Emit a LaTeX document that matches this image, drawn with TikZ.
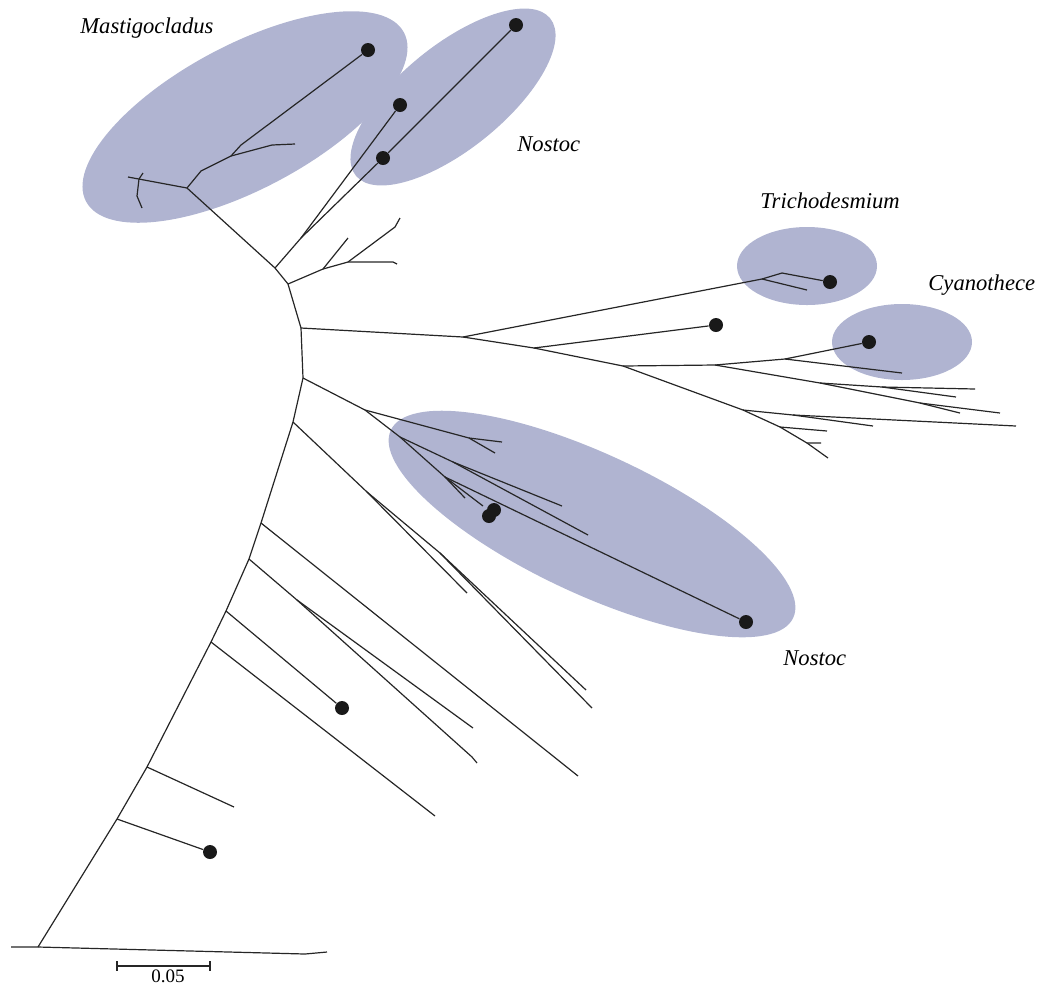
\documentclass[tikz,border=0pt]{standalone}
\usepackage{fontspec}
\setmainfont{Liberation Serif}
\usetikzlibrary{shapes.geometric}
\definecolor{cladeblue}{RGB}{176,180,209}
\newcommand{\tipdot}[2]{\node[tip] (#1) at #2 {};}

\begin{document}
\begin{tikzpicture}[
        x=0.5pt,
        y=-0.5pt,
        branch/.style={line width=0.6pt, draw=black!85, line join=round},
        tip/.style={circle, fill=black!90, inner sep=0pt, minimum size=7pt},
        clade/.style={ellipse, fill=cladeblue, inner sep=0pt, outer sep=0pt},
        taxon/.style={font=\fontsize{11.3}{13}\selectfont\itshape, anchor=base west, inner sep=0pt}
    ]
        \useasboundingbox (0,0) rectangle (1039,987);

        % shaded clades
        \node[clade, minimum width=180pt, minimum height=72pt, rotate=28] (mastiE) at (245,117) {};
        \node[clade, minimum width=125pt, minimum height=52pt, rotate=39] (nostocAE) at (453,97) {};
        \node[clade, minimum width=70pt, minimum height=39pt] (trichoE) at (807,266) {};
        \node[clade, minimum width=70pt, minimum height=38pt] (cyanoE) at (902,342) {};
        \node[clade, minimum width=222pt, minimum height=70pt, rotate=-25] (nostocBE) at (592,524) {};

        % backbone
        \coordinate (rl) at (11,947);
        \coordinate (r0) at (38,947);
        \coordinate (rr1) at (305,954);
        \coordinate (rr) at (327,952);
        \coordinate (b1) at (117,819);
        \coordinate (b2) at (147,767);
        \coordinate (b3) at (211,642);
        \coordinate (b4) at (226,611);
        \coordinate (b5) at (249,559);
        \coordinate (b6) at (261,523);
        \coordinate (b7) at (293,422);
        \coordinate (b8) at (303,378);
        \coordinate (b9) at (301,328);
        \coordinate (b10) at (288,284);
        \coordinate (b11) at (275,268);
        \coordinate (m0) at (187,188);

        % tips with dots
        \tipdot{d1}{(368,50)}
        \tipdot{d2}{(400,105)}
        \tipdot{d3}{(383,158)}
        \tipdot{d4}{(516,25)}
        \tipdot{d5}{(830,282)}
        \tipdot{d6}{(716,325)}
        \tipdot{d7}{(869,342)}
        \tipdot{d8a}{(489,516)}
        \tipdot{d8b}{(494,510)}
        \tipdot{d9}{(746,622)}
        \tipdot{d10}{(342,708)}
        \tipdot{d11}{(210,852)}

        % inner nodes and bare tips
        \coordinate (g1) at (297,600);
        \coordinate (n1) at (367,492);
        \coordinate (n2) at (440,553);
        \coordinate (k1) at (365,410);
        \coordinate (k2) at (469,438);
        \coordinate (k3) at (400,437);
        \coordinate (k4) at (453,462);
        \coordinate (k5) at (445,477);
        \coordinate (A) at (463,337);
        \coordinate (t1) at (762,279);
        \coordinate (t2) at (782,273);
        \coordinate (c1) at (534,348);
        \coordinate (B) at (623,366);
        \coordinate (c2) at (715,365);
        \coordinate (c3) at (785,359);
        \coordinate (c4) at (820,383);
        \coordinate (c5) at (920,403);
        \coordinate (c6) at (882,387);
        \coordinate (C) at (743,410);
        \coordinate (c7) at (793,415);
        \coordinate (c8) at (780,427);
        \coordinate (c9) at (807,443);
        \coordinate (s1) at (323,269);
        \coordinate (s2) at (348,262);
        \coordinate (s3) at (395,227);
        \coordinate (p1) at (301,238);
        \coordinate (m1) at (128,177);
        \coordinate (m2) at (139,179);
        \coordinate (m3) at (201,171);
        \coordinate (m4) at (231,156);
        \coordinate (m5) at (241,145);
        \coordinate (m6) at (272,145);

        \coordinate (e1) at (234,807);
        \coordinate (e2) at (435,816);
        \coordinate (e3) at (473,728);
        \coordinate (e4a) at (472,757);
        \coordinate (e4) at (477,763);
        \coordinate (e5) at (578,776);
        \coordinate (e6) at (467,593);
        \coordinate (e7) at (586,690);
        \coordinate (e8) at (592,708);
        \coordinate (e9) at (502,442);
        \coordinate (e10) at (495,453);
        \coordinate (e11) at (562,506);
        \coordinate (e12) at (588,535);
        \coordinate (e13) at (465,498);
        \coordinate (e14) at (483,506);
        \coordinate (e15) at (807,290);
        \coordinate (e16) at (902,373);
        \coordinate (e17) at (975,389);
        \coordinate (e18) at (956,397);
        \coordinate (e19) at (960,413);
        \coordinate (e20) at (1000,413);
        \coordinate (e21) at (1016,426);
        \coordinate (e22) at (873,426);
        \coordinate (e23) at (827,431);
        \coordinate (e24) at (821,443);
        \coordinate (e25) at (828,458);
        \coordinate (e26) at (348,238);
        \coordinate (e27a) at (393,262);
        \coordinate (e27) at (397,264);
        \coordinate (e28) at (400,218);
        \coordinate (e29a) at (137,196);
        \coordinate (e29) at (142,208);
        \coordinate (e29b) at (143,173);
        \coordinate (e30) at (295,144);

        % branches
        \draw[branch] (rl) -- (r0) -- (rr1) -- (rr);
        \draw[branch] (r0) -- (b1) -- (b2) -- (b3) -- (b4) -- (b5) -- (b6) -- (b7)
            -- (b8) -- (b9) -- (b10) -- (b11) -- (m0);

        \draw[branch] (b1) -- (d11);
        \draw[branch] (b2) -- (e1);
        \draw[branch] (b3) -- (e2);
        \draw[branch] (b4) -- (d10);
        \draw[branch] (b5) -- (g1) -- (e3);
        \draw[branch] (g1) -- (e4a) -- (e4);
        \draw[branch] (b6) -- (e5);
        \draw[branch] (b7) -- (n1) -- (e6);
        \draw[branch] (n1) -- (n2) -- (e7);
        \draw[branch] (n2) -- (e8);

        \draw[branch] (b8) -- (k1) -- (k2) -- (e9);
        \draw[branch] (k2) -- (e10);
        \draw[branch] (k1) -- (k3) -- (k4) -- (e11);
        \draw[branch] (k4) -- (e12);
        \draw[branch] (k3) -- (k5) -- (e13);
        \draw[branch] (k5) -- (e14);
        \draw[branch] (k5) -- (d9);

        \draw[branch] (b9) -- (A) -- (t1) -- (t2) -- (d5);
        \draw[branch] (t1) -- (e15);
        \draw[branch] (A) -- (c1) -- (d6);
        \draw[branch] (c1) -- (B) -- (c2) -- (c3) -- (d7);
        \draw[branch] (c3) -- (e16);
        \draw[branch] (c2) -- (c4) -- (c6) -- (e17);
        \draw[branch] (c6) -- (e18);
        \draw[branch] (c4) -- (c5) -- (e19);
        \draw[branch] (c5) -- (e20);
        \draw[branch] (B) -- (C) -- (c7) -- (e21);
        \draw[branch] (c7) -- (e22);
        \draw[branch] (C) -- (c8) -- (e23);
        \draw[branch] (c8) -- (c9) -- (e24);
        \draw[branch] (c9) -- (e25);

        \draw[branch] (b10) -- (s1) -- (e26);
        \draw[branch] (s1) -- (s2) -- (e27a) -- (e27);
        \draw[branch] (s2) -- (s3) -- (e28);

        \draw[branch] (b11) -- (p1) -- (d2);
        \draw[branch] (p1) -- (d3) -- (d4);

        \draw[branch] (m0) -- (m1);
        \draw[branch] (m2) -- (e29a) -- (e29);
        \draw[branch] (m2) -- (e29b);
        \draw[branch] (m0) -- (m3) -- (m4) -- (m5) -- (d1);
        \draw[branch] (m4) -- (m6) -- (e30);

        % labels
        \node[taxon] (lMasti) at (80,33) {Mastigocladus};
        \node[taxon] (lNostocA) at (517,151) {Nostoc};
        \node[taxon] (lTricho) at (760,208) {Trichodesmium};
        \node[taxon] (lCyano) at (928,290) {Cyanothece};
        \node[taxon] (lNostocB) at (783,665) {Nostoc};

        % scale bar
        \coordinate (sb1) at (117,966);
        \coordinate (sb2) at (210,966);
        \draw[branch] (sb1) -- (sb2);
        \draw[branch] ([yshift=2.5pt]sb1) -- ([yshift=-2.5pt]sb1);
        \draw[branch] ([yshift=2.5pt]sb2) -- ([yshift=-2.5pt]sb2);
        \node[font=\fontsize{9.5}{11}\selectfont, anchor=base, inner sep=0pt] (lScale) at (168,982) {0.05};
    \end{tikzpicture}
\end{document}
